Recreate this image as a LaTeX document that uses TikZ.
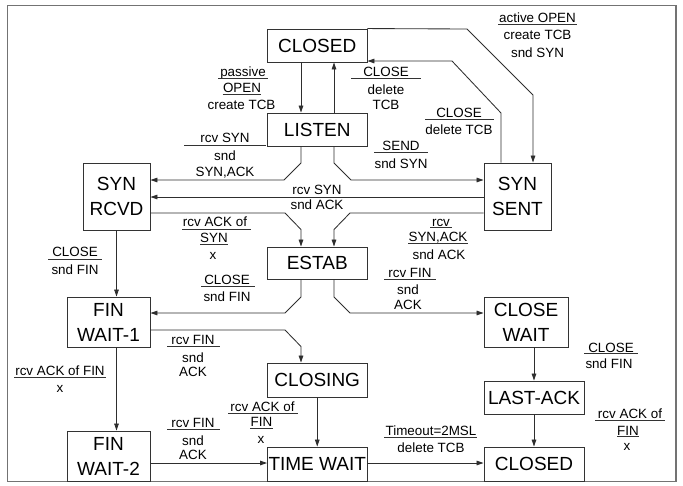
\documentclass[tikz,border=0pt]{standalone}
\usepackage{fontspec}
\setmainfont{Liberation Sans}
\usetikzlibrary{arrows.meta}
\begin{document}
\begin{tikzpicture}[x=1pt,y=-1pt,
  state/.style={draw=black!80, line width=0.9pt, inner sep=0pt, align=center,
    font=\fontsize{19}{25}\selectfont},
  conn/.style={draw=black!82, line width=0.85pt},
  arr/.style={conn, -{Triangle[length=7pt,width=4.6pt]}},
  lbl/.style={anchor=base, inner sep=0pt, font=\fontsize{13.4}{16}\selectfont},
  ul/.style={draw=black!80, line width=0.7pt}]
\useasboundingbox (0,0) rectangle (683,485);
\draw[draw=black!55, line width=1.2pt] (7.5,5.3) rectangle (676,481.5);

% states
\node[state, minimum width=99.5pt, minimum height=33pt] (closedT) at (317.25,45.5) {CLOSED};
\node[state, minimum width=99.5pt, minimum height=33pt] (listen) at (317.25,129.5) {LISTEN};
\node[state, minimum width=67pt, minimum height=67pt] (synsent) at (517.5,196.5) {SYN\\SENT};
\node[state, minimum width=67pt, minimum height=67pt] (synrcvd) at (116.5,196.5) {SYN\\RCVD};
\node[state, minimum width=99.5pt, minimum height=32pt] (estab) at (317.25,263) {ESTAB};
\node[state, minimum width=83pt, minimum height=50pt] (fw1) at (108.5,322) {FIN\\WAIT-1};
\node[state, minimum width=99.5pt, minimum height=34pt] (closing) at (317.25,380) {CLOSING};
\node[state, minimum width=83pt, minimum height=50pt] (fw2) at (108.5,456) {FIN\\WAIT-2};
\node[state, minimum width=99.5pt, minimum height=34pt] (timewait) at (317.25,464) {TIME WAIT};
\node[state, minimum width=84pt, minimum height=50pt] (closewait) at (526,322) {CLOSE\\WAIT};
\node[state, minimum width=100pt, minimum height=33pt] (lastack) at (534,397.5) {LAST-ACK};
\node[state, minimum width=100pt, minimum height=34pt] (closedB) at (534,464) {CLOSED};

% reference columns / rows
\coordinate (cL) at (301,0);
\coordinate (cR) at (334,0);

% connectors
\draw[arr] (closedT.south -| cL) -- (listen.north -| cL);
\draw[arr] (listen.north -| cR) -- (closedT.south -| cR);
\coordinate (p3a) at (501,113); \coordinate (p3b) at (452,61);
\draw[arr] (synsent.north -| p3a) -- (p3a) -- (p3b) -- (closedT.east |- p3b);
\coordinate (p4a) at (467,29); \coordinate (p4b) at (533,95);
\draw[arr] (closedT.north east) -- (p4a) -- (p4b) -- (synsent.north -| p4b);
\coordinate (p5a) at (334,163); \coordinate (p5b) at (351,180);
\draw[arr] (listen.south -| cR) -- (p5a) -- (p5b) -- (synsent.west |- p5b);
\coordinate (p6a) at (301,163); \coordinate (p6b) at (284,180);
\draw[arr] (listen.south -| cL) -- (p6a) -- (p6b) -- (synrcvd.east |- p6b);
\coordinate (y7) at (0,197);
\draw[arr] (synsent.west |- y7) -- (synrcvd.east |- y7);
\coordinate (p8a) at (285,213); \coordinate (p8b) at (301,229.5);
\draw[arr] (synrcvd.east |- p8a) -- (p8a) -- (p8b) -- (estab.north -| cL);
\coordinate (p9a) at (350,213); \coordinate (p9b) at (334,229.5);
\draw[arr] (synsent.west |- p9a) -- (p9a) -- (p9b) -- (estab.north -| cR);
\coordinate (p10a) at (301,297); \coordinate (p10b) at (285,313);
\draw[arr] (estab.south -| cL) -- (p10a) -- (p10b) -- (fw1.east |- p10b);
\coordinate (p11a) at (334,297); \coordinate (p11b) at (350,313);
\draw[arr] (estab.south -| cR) -- (p11a) -- (p11b) -- (closewait.west |- p11b);
\draw[arr] (synrcvd.south) -- (synrcvd.south |- fw1.north);
\coordinate (p13a) at (285,330); \coordinate (p13b) at (301,346.5);
\draw[arr] (fw1.east |- p13a) -- (p13a) -- (p13b) -- (closing.north -| cL);
\draw[arr] (synrcvd.south |- fw1.south) -- (synrcvd.south |- fw2.north);
\draw[arr] (closing.south) -- (timewait.north);
\coordinate (y16) at (0,463);
\draw[arr] (fw2.east |- y16) -- (timewait.west |- y16);
\draw[arr] (timewait.east |- y16) -- (closedB.west |- y16);
\draw[arr] (lastack.north |- closewait.south) -- (lastack.north);
\draw[arr] (lastack.south) -- (closedB.north);

% labels
\node[lbl] (l1a) at (537.5,22.7) {active OPEN};
\node[lbl] (l1b) at (537.5,39.7) {create TCB};
\node[lbl] (l1c) at (537.5,57.2) {snd SYN};
\draw[ul] (498,24.8) -- (577,24.8);

\node[lbl] (l2a) at (243,76) {passive};
\node[lbl] (l2b) at (242,92) {OPEN};
\node[lbl] (l2c) at (241.5,109) {create TCB};
\draw[ul] (218,78.7) -- (268,78.7);
\draw[ul] (222.5,94.3) -- (261,94.3);

\node[lbl] (l3a) at (386,76) {CLOSE};
\node[lbl] (l3b) at (386,94) {delete};
\node[lbl] (l3c) at (386,109) {TCB};
\draw[ul] (351,78.3) -- (421,78.3);

\node[lbl] (l4a) at (459,117.3) {CLOSE};
\node[lbl] (l4b) at (459,134) {delete TCB};
\draw[ul] (425,119.3) -- (494,119.3);

\node[lbl] (l5a) at (225,142.7) {rcv SYN};
\node[lbl] (l5b) at (225,160.5) {snd};
\node[lbl] (l5c) at (225,176.4) {SYN,ACK};
\draw[ul] (184,145) -- (266,145);

\node[lbl] (l6a) at (401,150.7) {SEND};
\node[lbl] (l6b) at (401,168) {snd SYN};
\draw[ul] (374,152.8) -- (428,152.8);

\node[lbl] (l7a) at (317,194) {rcv SYN};
\node[lbl] (l7b) at (317,209.7) {snd ACK};

\node[lbl] (l8a) at (215,226.7) {rcv ACK of};
\node[lbl] (l8b) at (214,242.7) {SYN};
\node[lbl] (l8c) at (213,259.5) {x};
\draw[ul] (182,229) -- (251,229);
\draw[ul] (200,244.8) -- (228,244.8);

\node[lbl] (l9a) at (75,256.7) {CLOSE};
\node[lbl] (l9b) at (75,274) {snd FIN};
\draw[ul] (48,259) -- (102,259);

\node[lbl] (l10a) at (227,284.3) {CLOSE};
\node[lbl] (l10b) at (227,301.3) {snd FIN};
\draw[ul] (201,286.7) -- (255,286.7);

\node[lbl] (l11a) at (193,344.3) {rcv FIN};
\node[lbl] (l11b) at (193,362) {snd};
\node[lbl] (l11c) at (193,376.3) {ACK};
\draw[ul] (167,346.3) -- (220,346.3);

\node[lbl] (l12a) at (60,375) {rcv ACK of FIN};
\node[lbl] (l12b) at (60,392) {x};
\draw[ul] (14,377.3) -- (106,377.3);

\node[lbl] (l13a) at (193,427.7) {rcv FIN};
\node[lbl] (l13b) at (193,445.3) {snd};
\node[lbl] (l13c) at (193,459.7) {ACK};
\draw[ul] (167,429.6) -- (220,429.6);

\node[lbl] (l14a) at (262.5,411.7) {rcv ACK of};
\node[lbl] (l14b) at (261.5,426.7) {FIN};
\node[lbl] (l14c) at (261,443) {x};
\draw[ul] (228,413.6) -- (298,413.6);
\draw[ul] (250,428.6) -- (273,428.6);

\node[lbl] (l15a) at (441,226) {rcv};
\node[lbl] (l15b) at (438,241.7) {SYN,ACK};
\node[lbl] (l15c) at (439,259) {snd ACK};
\draw[ul] (430,227.6) -- (452,227.6);
\draw[ul] (408,243.5) -- (468,243.5);

\node[lbl] (l16a) at (410,277.3) {rcv FIN};
\node[lbl] (l16b) at (408,294) {snd};
\node[lbl] (l16c) at (408,309) {ACK};
\draw[ul] (384,279.5) -- (436,279.5);

\node[lbl] (l17a) at (611,352) {CLOSE};
\node[lbl] (l17b) at (609,368.7) {snd FIN};
\draw[ul] (584,353.6) -- (638,353.6);

\node[lbl] (l18a) at (630,418.7) {rcv ACK of};
\node[lbl] (l18b) at (628,435) {FIN};
\node[lbl] (l18c) at (627,450.7) {x};
\draw[ul] (595,420.8) -- (665,420.8);
\draw[ul] (617,436.8) -- (639,436.8);

\node[lbl] (l19a) at (431,435) {Timeout=2MSL};
\node[lbl] (l19b) at (431,452.3) {delete TCB};
\draw[ul] (384,437.4) -- (477,437.4);
\end{tikzpicture}
\end{document}
